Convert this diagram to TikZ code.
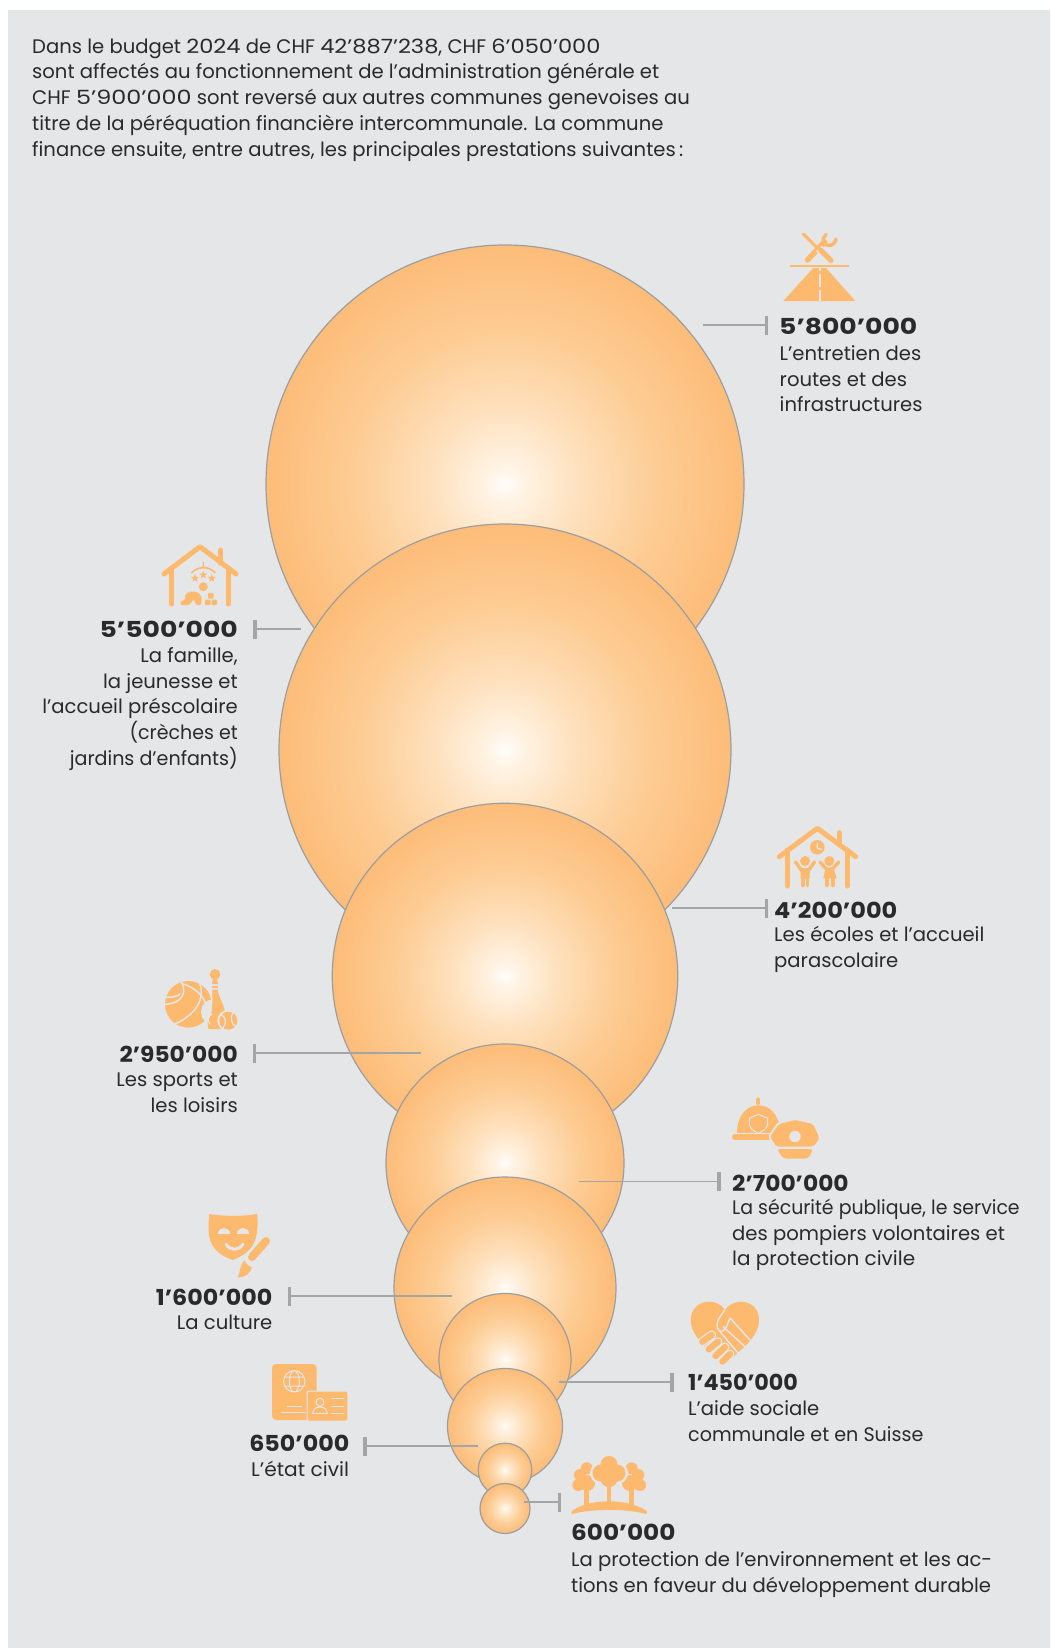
\documentclass[tikz,border=0pt]{standalone}
\usepackage{fontspec}
\usepackage{graphicx}
\setmainfont{Poppins}
\usetikzlibrary{arrows.meta}
\definecolor{pagebg}{HTML}{E5E6E8}
\definecolor{org}{HTML}{FDB96E}
\definecolor{ink}{HTML}{2A2A2C}
\definecolor{leadgray}{HTML}{A3A5A7}
\definecolor{orbrim}{HTML}{9C9EA0}
\definecolor{orbA}{HTML}{FFFDFA}
\definecolor{orbB}{HTML}{FFF3E4}
\definecolor{orbC}{HTML}{FEE0BC}
\definecolor{orbD}{HTML}{FDCC94}
\definecolor{orbF}{HTML}{FDBE7C}
\definecolor{orbE}{HTML}{FDB96E}
\pgfdeclareradialshading{orbshade}{\pgfpoint{0bp}{0bp}}{color(0bp)=(orbA);color(2bp)=(orbB);color(8bp)=(orbC);color(16bp)=(orbD);color(24bp)=(orbF);color(30bp)=(orbE);color(100bp)=(orbE)}
\tikzset{
  orb/.style={circle,inner sep=0pt,draw=orbrim,line width=1.2pt,shading=orbshade,minimum size=#1},
  leader/.style={draw=leadgray,line width=1.5pt,-{Bar[width=19pt,line width=3.5pt]}},
  intro/.style={inner sep=0pt,anchor=north west,align=left,text=ink,font=\fontsize{19.6}{25.8}\selectfont},
  num/.style={inner sep=0pt,text=ink,font=\fontsize{22}{26}\selectfont\bfseries},
  desc/.style={inner sep=0pt,text=ink,font=\fontsize{19.6}{25.8}\selectfont},
  ico/.style={draw=org,line cap=round,line join=round,line width=#1},
  ico/.default=5pt,
  cut/.style={draw=pagebg,line cap=round,line join=round,line width=#1},
  cut/.default=1.2pt,
}
\newcommand{\firstline}{\rule{0pt}{18pt}}
\newcommand{\wider}[2]{\scalebox{#1}[1]{#2}}
\begin{document}
\begin{tikzpicture}[x=1pt,y=-1pt]
\path[use as bounding box,fill=white] (0,0) rectangle (1050,1648);
\fill[pagebg] (8,10) rectangle (1050,1648);

\node[intro] (introtext) at (32,35) {\firstline Dans le budget \wider{1.15}{2024} de CHF \wider{1.15}{42’887’238}, CHF \wider{1.15}{6’050’000}\\sont affectés au fonctionnement de l’administration générale et\\CHF \wider{1.22}{5’900’000} sont reversé aux autres communes genevoises au\\titre de la péréquation financière intercommunale. La commune\\finance ensuite, entre autres, les principales prestations suivantes\,:};

% spheres
\node[orb=478pt] (c1) at (505,484) {};
\node[orb=452pt] (c2) at (505,750) {};
\node[orb=345.5pt] (c3) at (505,976) {};
\node[orb=238pt] (c4) at (505,1163) {};
\node[orb=222pt] (c5) at (505,1288) {};
\node[orb=132pt] (c6) at (505,1359.5) {};
\node[orb=115pt] (c7) at (505,1426) {};
\node[orb=53.6pt] (c8) at (505,1470) {};
\node[orb=50pt] (c9) at (505,1508.5) {};

% leaders
\coordinate (a1) at (703,325);  \coordinate (b1) at (768,325);
\coordinate (a2) at (301,629);  \coordinate (b2) at (253,629);
\coordinate (a3) at (672,908);  \coordinate (b3) at (768,908);
\coordinate (a4) at (421,1053); \coordinate (b4) at (252.5,1053);
\coordinate (a5) at (578.5,1181.5); \coordinate (b5) at (720.5,1181.5);
\coordinate (a6) at (451.5,1296); \coordinate (b6) at (287.5,1296);
\coordinate (a7) at (559,1382); \coordinate (b7) at (673.5,1382);
\coordinate (a8) at (478,1446); \coordinate (b8) at (363,1446);
\coordinate (a9) at (524,1502); \coordinate (b9) at (561,1502);
\foreach \i in {1,...,9} {\draw[leader] (a\i) -- (b\i);}

% labels
\node[num,anchor=base west] (n1) at (779,334) {\wider{1.21}{5’800’000}};
\node[desc,anchor=north west,align=left] (d1) at (779.5,342) {\firstline L’entretien des\\routes et des\\infrastructures};
\node[num,anchor=base east] (n2) at (238,637) {\wider{1.21}{5’500’000}};
\node[desc,anchor=north east,align=right] (d2) at (238,644) {\firstline La famille,\\la jeunesse et\\l’accueil préscolaire\\\wider{.97}{(crèches et}\\\wider{.975}{jardins d’enfants)}};
\node[num,anchor=base west] (n3) at (774,918) {\wider{1.09}{4’200’000}};
\node[desc,anchor=north west,align=left] (d3) at (774,923.5) {\firstline Les écoles et l’accueil\\parascolaire};
\node[num,anchor=base east] (n4) at (238,1062.5) {\wider{1.06}{2’950’000}};
\node[desc,anchor=north east,align=right] (d4) at (238,1068.5) {\firstline Les sports et\\les loisirs};
\node[num,anchor=base west] (n5) at (732,1191) {\wider{1.06}{2’700’000}};
\node[desc,anchor=north west,align=left] (d5) at (732,1196) {\firstline \wider{.965}{La sécurité publique, le service}\\des pompiers volontaires et\\\wider{1.02}{la protection civile}};
\node[num,anchor=base east] (n6) at (272.5,1305) {\wider{1.08}{1’600’000}};
\node[desc,anchor=north east,align=right] (d6) at (272.5,1311) {\firstline La culture};
\node[num,anchor=base west] (n7) at (688,1390) {\wider{1.01}{1’450’000}};
\node[desc,anchor=north west,align=left] (d7) at (688,1397) {\firstline L’aide sociale\\\wider{.975}{communale et en Suisse}};
\node[num,anchor=base east] (n8) at (349.5,1451) {\wider{1.08}{650’000}};
\node[desc,anchor=north west,align=left] (d8) at (251,1458) {\firstline \wider{1.03}{L’état civil}};
\node[num,anchor=base west] (n9) at (571,1540) {\wider{1.125}{600’000}};
\node[desc,anchor=north west,align=left] (d9) at (571,1548) {\firstline La protection de l’environnement et les ac-\\tions en faveur du développement durable};

% icon 1: road and tools
\draw[ico=3.2pt] (803.3,234) -- (819,249.5);
\draw[ico=5.5pt] (807.5,260) -- (824.5,242);
\draw[ico=3.5pt] (826,234.5) .. controls (821,238.5) and (823,246) .. (829,245.5) .. controls (832.5,245.5) and (835.5,243) .. (836,239);
\draw[cut=8pt,line cap=butt] (819,248.5) -- (832,262);
\draw[ico=5pt] (820.5,250) -- (831,260.5);
\draw[ico=2.7pt,line cap=butt] (790,266) -- (849,266);
\fill[org] (813.3,268) -- (826,268) -- (855.3,301) -- (783.3,301) -- cycle;
\draw[cut=2pt,line cap=butt] (819.5,268) -- (819.5,271) (819.5,274) -- (819.5,287) (819.5,290) -- (819.5,301);

% icon 2: house with baby
\draw[ico] (164,574) -- (200,546.7) -- (236,574);
\draw[ico] (171.7,568) -- (171.7,604) (228.3,568) -- (228.3,604) (220.3,550) -- (220.3,563);
\draw[ico=1.6pt] (203.3,562.3) -- (203.3,568) (191.7,572.7) .. controls (198,566) and (209,566) .. (215,572.7);
\foreach \cx/\cy in {195/578.3,203.3/575,211.7/578.3} {
  \fill[org,shift={(\cx,\cy)}] (-90:4.2) -- (-54:1.8) -- (-18:4.2) -- (18:1.8) -- (54:4.2) -- (90:1.8) -- (126:4.2) -- (162:1.8) -- (198:4.2) -- (234:1.8) -- cycle;
}
\fill[org] (203.3,586.7) circle[radius=4.5];
\fill[org,rounded corners=1pt] (180.7,605) -- (180.7,601.7) -- (185,599.5) -- (185,595) -- (190,591.5) -- (197.3,592) -- (201.7,596.7) -- (201,605) -- (196,605) -- (194,599.5) -- (189,605) -- cycle;
\fill[org,rounded corners=.8pt] (208,593) rectangle (213.5,598.5) (205,599.7) rectangle (210.5,605) (211.5,599.7) rectangle (217,605);

% icon 3: house with children
\draw[ico] (779.3,856.7) -- (817.3,828.3) -- (855.7,856.7);
\draw[ico] (787.3,850) -- (787.3,886) (847.3,850) -- (847.3,886) (839,832.7) -- (839,843);
\fill[org] (817.3,847.3) circle[radius=7.3];
\draw[cut=1.2pt] (817.3,843) -- (817.3,848.3) -- (821.7,849.3);
\fill[org] (805,861) circle[radius=5] (829.3,861) circle[radius=5];
\draw[ico=3.4pt] (795.5,862) -- (802,871) (814.5,862) -- (808,871) (820,862) -- (826.7,869.5) (838.7,862) -- (832,869.5);
\fill[org,rounded corners=1pt] (800.5,868) rectangle (809.5,879);
\draw[ico=3.6pt] (802.7,877) -- (802.7,885.5) (807.3,877) -- (807.3,885.5) (826.7,877) -- (826.7,885.5) (832.7,877) -- (832.7,885.5);
\fill[org] (826,867.3) -- (833.3,867.3) -- (836.7,878.3) -- (823.3,878.3) -- cycle;

% icon 4: sports
\fill[org] (188.3,1004.3) circle[radius=23.3];
\draw[cut=1.5pt] (165,1004.3) .. controls (185,1003) and (186,990) .. (181.7,982.5);
\draw[cut=1.5pt] (175,1024) .. controls (195,1015) and (205,1000) .. (200,984);
\draw[cut=1.5pt] (181.5,983.5) .. controls (198,988) and (212,1002) .. (205,1021);
\draw[cut=1.5pt] (166,997) .. controls (172,998) and (178,996) .. (180,994);
\fill[pagebg] (214,1012) circle[radius=13];
\fill[org] (215,974.3) circle[radius=5.3];
\fill[org] (213,978) -- (217,978) -- (218,984) -- (212,984) -- cycle;
\fill[org] (212.3,986) rectangle (217.7,988);
\fill[org] (212.5,989.5) -- (217.7,989.5) .. controls (219,1000) and (226,1006) .. (224.5,1014) .. controls (224,1020) and (222,1025) .. (222,1029) -- (208.5,1029) .. controls (208,1024) and (206,1022) .. (211,1015) .. controls (213,1005) and (212,1000) .. (212.5,989.5) -- cycle;
\draw[cut=1.2pt] (210,1024) .. controls (206,1021) and (209,1015) .. (212,1014);
\fill[pagebg] (228.3,1020.7) circle[radius=11];
\fill[org] (228.3,1020.7) circle[radius=9];
\draw[cut=1.2pt] (221,1014.5) .. controls (226,1017) and (227,1023) .. (223,1028);
\draw[cut=1.2pt] (233,1012.5) .. controls (230,1017) and (231,1024) .. (236,1027);

% icon 5: helmets
\draw[ico=4pt] (758.3,1099.5) -- (758.3,1103);
\fill[org] (736.7,1133) .. controls (736.7,1096) and (780,1096) .. (780,1133) -- cycle;
\draw[ico=5.2pt] (734.5,1137) -- (778,1137);
\draw[cut=1pt] (749.3,1118.3) -- (758.3,1114.3) -- (767.7,1118.3) -- (767.7,1124.3) .. controls (767.7,1128) and (763,1131) .. (758.3,1133.3) .. controls (753.5,1131) and (749.3,1128) .. (749.3,1124.3) -- cycle;
\draw[cut=4pt,fill=pagebg,rounded corners=2pt] (795,1120) -- (813,1124) -- (819.5,1138.3) -- (813.3,1146.7) -- (776.7,1146.7) -- (770,1136.7) -- (779,1124) -- cycle;
\fill[org,rounded corners=2pt] (795,1120) -- (813,1124) -- (819.5,1138.3) -- (813.3,1146.7) -- (776.7,1146.7) -- (770,1136.7) -- (779,1124) -- cycle;
\fill[org,rounded corners=3pt] (776.7,1149) -- (813.3,1149) -- (808.3,1158.5) -- (783.3,1158.5) -- cycle;
\fill[pagebg] (795,1136.5) circle[radius=5.7];

% icon 6: mask and brush
\fill[org] (209.3,1214) .. controls (225,1216.5) and (241,1216.5) .. (257.3,1214) .. controls (258,1232) and (259,1250) .. (232.7,1260) .. controls (205,1250) and (208,1232) .. (209.3,1214) -- cycle;
\fill[pagebg] (218,1233.5) .. controls (218,1226) and (230,1226) .. (230,1233.5) -- cycle;
\fill[pagebg] (236.7,1233.5) .. controls (236.7,1226) and (248.7,1226) .. (248.7,1233.5) -- cycle;
\draw[cut=3pt] (226,1244) .. controls (230,1251) and (239,1251) .. (243,1244);
\draw[cut=12pt] (266,1241) -- (248,1262);
\draw[ico=8pt] (266,1241) -- (252,1257);
\fill[org] (245,1260) .. controls (243,1262) and (253,1270) .. (252,1266) .. controls (251,1274) and (245,1277) .. (237.5,1277.5) .. controls (241,1272) and (239,1265) .. (245,1260) -- cycle;

% icon 7: heart and handshake
\fill[org] (725,1364) .. controls (712,1352) and (690.7,1338) .. (690.7,1320) .. controls (690.7,1300) and (716,1296) .. (725,1310) .. controls (735,1296) and (759,1300) .. (759,1320) .. controls (759,1338) and (738,1352) .. (725,1364) -- cycle;
\draw[cut=1.4pt] (725,1310) .. controls (718,1318) and (714,1326) .. (720,1331.5) .. controls (726,1332) and (728,1322) .. (730,1318) -- (750,1340);
\draw[cut=1.4pt] (723.3,1326.7) -- (745,1346.7) (720,1331.7) -- (738.3,1353.3);
\draw[cut=9pt] (702.3,1341.7) -- (711.7,1335) (708.3,1349.3) -- (718,1341.7) (715,1356) -- (725,1347) (722,1361.5) -- (730,1354);
\draw[ico=6.4pt] (702.3,1341.7) -- (711.7,1335);
\draw[ico=6.4pt] (708.8,1349.3) -- (718,1341.7);
\draw[ico=6.4pt] (715.5,1356) -- (725,1347);
\draw[ico=6.4pt] (722.5,1361.5) -- (730,1354);

% icon 8: passport and card
\fill[org,rounded corners=4pt] (272,1420) -- (272,1364) -- (316.7,1364) -- (316.7,1420) -- cycle;
\draw[cut=1pt] (294.3,1381.3) circle[radius=10.7] (294.3,1381.3) ellipse[x radius=5,y radius=10.7] (284.5,1377) -- (304,1377) (284.5,1386) -- (304,1386);
\draw[cut=1pt] (287.3,1406.7) -- (301.7,1406.7) (281.7,1412.3) -- (305,1412.3);
\fill[pagebg,rounded corners=2pt] (306.5,1390.5) rectangle (348.5,1422);
\fill[org,rounded corners=2pt] (307.7,1391.7) rectangle (347.3,1420.7);
\draw[cut=1pt] (320,1402.3) circle[radius=4] (312.7,1413.3) .. controls (312.7,1405) and (327.3,1405) .. (327.3,1413.3) -- cycle;
\draw[cut=1pt] (331.7,1398.3) -- (343.3,1398.3) (331.7,1406) -- (343.3,1406) (331.7,1413.3) -- (343.3,1413.3);

% icon 9: trees
\fill[org] (571.7,1511) .. controls (590,1498) and (628,1498) .. (646.7,1511) .. controls (648,1515) and (645,1514) .. (640,1512.5) .. controls (620,1509) and (598,1509) .. (578,1512.5) .. controls (573,1514) and (570,1515) .. (571.7,1511) -- cycle;
\draw[ico=4.6pt,line cap=butt] (586.7,1487) -- (586.7,1505) (631.7,1487) -- (631.7,1505) (609,1483) -- (609,1503);
\fill[org] (586.7,1468.3) circle[radius=6] (580,1475) circle[radius=6] (578.3,1485) circle[radius=6] (587,1483) circle[radius=8];
\fill[org] (631.7,1468.3) circle[radius=6] (638.3,1475) circle[radius=6] (640,1485) circle[radius=6] (630,1483) circle[radius=8];
\fill[pagebg] (609,1464.5) circle[radius=11] (601,1473) circle[radius=11] (617,1473) circle[radius=11] (609,1478) circle[radius=11];
\draw[ico=4.6pt,line cap=butt] (609,1480) -- (609,1503);
\fill[org] (609,1464.5) circle[radius=8.5] (601,1473) circle[radius=8.5] (617,1473) circle[radius=8.5] (609,1478) circle[radius=9];
\end{tikzpicture}
\end{document}
